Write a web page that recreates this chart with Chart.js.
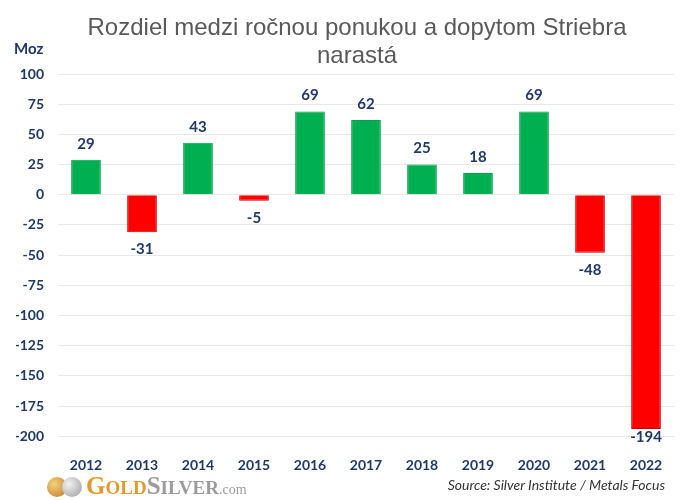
<!DOCTYPE html>
<html>
<head>
<meta charset="utf-8">
<script src="https://cdn.jsdelivr.net/npm/chart.js@4"></script>
<style>
  body { margin: 0; background: #fff; }
  #wrap { position: relative; width: 691px; height: 500px; }
  #title { position: absolute; left: 22px; width: 670px; top: 13px; text-align: center; font: 24px "Liberation Sans", Arial, sans-serif; line-height: 28px; color: #595959; }
  #moz { position: absolute; left: 14px; top: 39px; font: bold 15px Lato, sans-serif; color: #1f3864; }
  #logo { position: absolute; left: 47px; top: 472px; font-family: "Liberation Serif", serif; font-weight: bold; white-space: nowrap; }
  #logo .coin { display: inline-block; width: 20px; height: 20px; border-radius: 50%; vertical-align: -3px; }
  #logo .big { font-size: 25px; }
  #logo .sm { font-size: 19px; }
  #logo .gold { color: #e29a30; }
  #logo .silver { color: #9b9b9b; }
  #src { position: absolute; right: 26px; top: 476px; font: italic 14px Lato, sans-serif; color: #333; }
</style>
</head>
<body>
<div id="wrap">
  <canvas id="barchart" width="691" height="500"></canvas>
  <div id="title">Rozdiel medzi ročnou ponukou a dopytom Striebra<br>narastá</div>
  <div id="moz">Moz</div>
  <div id="logo">
    <span class="coin" style="background: radial-gradient(circle at 35% 35%, #f6d27a, #b8762c);"></span><span class="coin" style="margin-left:-5px; background: radial-gradient(circle at 35% 35%, #f2f2f2, #9a9a9a);"></span>
    <span class="gold big">G</span><span class="gold sm">OLD</span><span class="silver big">S</span><span class="silver sm">ILVER</span><span class="silver" style="font-size:14px; font-weight:normal">.com</span>
  </div>
  <div id="src">Source: Silver Institute / Metals Focus</div>
</div>
<script>
// rozdiel ponuky a dopytu, Moz
var years = ["2012", "2013", "2014", "2015", "2016", "2017", "2018", "2019", "2020", "2021", "2022"];
var deficit = [29, -31, 43, -5, 69, 62, 25, 18, 69, -48, -194];
var yTicks = [100, 75, 50, 25, 0, -25, -50, -75, -100, -125, -150, -175, -200];

var navy = "#1f3864";

var barLabels = {
  id: 'barLabels',
  afterDatasetsDraw: function (chart) {
    var ctx = chart.ctx;
    var meta = chart.getDatasetMeta(0);
    ctx.save();
    ctx.font = "bold 15px Lato, sans-serif";
    ctx.fillStyle = navy;
    ctx.textAlign = "center";
    ctx.textBaseline = "middle";
    meta.data.forEach(function (bar, i) {
      var v = deficit[i];
      var y = v >= 0 ? bar.y - 16 : Math.min(bar.y + 17, chart.chartArea.bottom + 1);
      ctx.fillText(v, bar.x, y);
    });
    ctx.restore();
  }
};

var chart = new Chart(document.getElementById("barchart"), {
  type: 'bar',
  data: {
    labels: years,
    datasets: [{
      data: deficit,
      backgroundColor: deficit.map(function (v) { return v >= 0 ? "#00b050" : "#ff0000"; }),
      borderColor: deficit.map(function (v) { return v >= 0 ? "#00a048" : "#c00000"; }),
      borderWidth: 1,
      barPercentage: 0.53,
      categoryPercentage: 1.0
    }]
  },
  options: {
    responsive: false,
    animation: false,
    layout: { padding: { left: 16, right: 17, top: 74, bottom: 5 } },
    plugins: {
      legend: { display: false },
      tooltip: { enabled: false },
      title: { display: false }
    },
    scales: {
      x: {
        grid: { display: false, drawTicks: false },
        border: { display: false },
        ticks: { color: navy, font: { family: "Lato, sans-serif", size: 14, weight: 'bold' }, padding: 21 }
      },
      y: {
        min: -200,
        max: 100,
        afterFit: function (scale) { scale.width = 42; },
        afterBuildTicks: function (scale) {
          scale.ticks = yTicks.map(function (t) { return { value: t }; });
        },
        grid: { color: "#e8e8e8", drawTicks: false },
        border: { display: false },
        ticks: { color: navy, font: { family: "Lato, sans-serif", size: 14, weight: 'bold' }, padding: 14 }
      }
    }
  },
  plugins: [barLabels]
});
</script>
</body>
</html>
